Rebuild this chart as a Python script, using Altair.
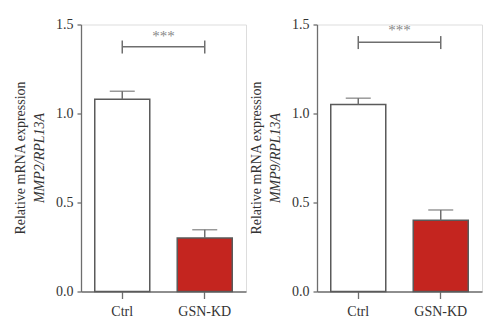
import altair as alt
import pandas as pd

categories = ["Ctrl", "GSN-KD"]
mmp2_mean = [1.08, 0.30]
mmp2_err = [0.045, 0.047]
mmp9_mean = [1.05, 0.40]
mmp9_err = [0.036, 0.058]
bar_fill = ["#ffffff", "#c4251f"]
title_line1 = "Relative mRNA expression"
title_line2 = ["MMP2/RPL13A", "MMP9/RPL13A"]
sig_label = "***"
bracket_y = [1.375, 1.40]
star_y = [1.435, 1.47]

FONT = "Times New Roman, Liberation Serif, serif"
GRAY = "#6e6e6e"
W, H = 165, 267


def panel(means, errs, line2, by, sy):
    df = pd.DataFrame({
        "cat": categories,
        "mean": means,
        "top": [m + e for m, e in zip(means, errs)],
        "fill": bar_fill,
    })
    xscale = alt.Scale(domain=categories, paddingInner=0.333, paddingOuter=0.1667)
    xenc = alt.X("cat:N", sort=categories, scale=xscale,
                 axis=alt.Axis(title=None, labelAngle=0, tickSize=7, labelPadding=6,
                               domainColor=GRAY, tickColor=GRAY, domainWidth=1.3, tickWidth=1.3,
                               labelFont=FONT, labelFontSize=14, labelColor="#333333"))
    yscale = alt.Scale(domain=[0, 1.5], nice=False)
    yenc = alt.Y("mean:Q", scale=yscale,
                 axis=alt.Axis(title=None, values=[0, 0.5, 1.0, 1.5], format=".1f", grid=False,
                               tickSize=4, labelPadding=4, domainColor=GRAY, tickColor=GRAY,
                               domainWidth=1.3, tickWidth=1.3,
                               labelFont=FONT, labelFontSize=14, labelColor="#333333"))
    base = alt.Chart(df)
    bars = base.mark_bar(stroke="#5a5a5a", strokeWidth=1.5).encode(
        x=xenc, y=yenc, fill=alt.Fill("fill:N", scale=None))
    err = base.mark_rule(color=GRAY, strokeWidth=1.5).encode(
        x=alt.X("cat:N", sort=categories, title=None), y=alt.Y("mean:Q", title=None), y2="top:Q")
    cap = base.mark_tick(color=GRAY, thickness=1.5, size=25).encode(
        x=alt.X("cat:N", sort=categories, title=None), y=alt.Y("top:Q", title=None))

    bdf = pd.DataFrame({"x1": [categories[0]], "x2": [categories[1]], "y": [by],
                        "ylo": [by - 0.038], "yhi": [by + 0.035], "sy": [sy], "lab": [sig_label]})
    bb = alt.Chart(bdf)
    hline = bb.mark_rule(color=GRAY, strokeWidth=1.5).encode(
        x=alt.X("x1:N", title=None), x2="x2:N", y=alt.Y("y:Q", title=None))
    lend = bb.mark_rule(color=GRAY, strokeWidth=1.5).encode(
        x=alt.X("x1:N", title=None), y=alt.Y("ylo:Q", title=None), y2="yhi:Q")
    rend = bb.mark_rule(color=GRAY, strokeWidth=1.5).encode(
        x=alt.X("x2:N", title=None), y=alt.Y("ylo:Q", title=None), y2="yhi:Q")
    stars = bb.mark_text(font=FONT, fontSize=15, color="#888888", baseline="middle").encode(
        x=alt.value(W / 2), y=alt.Y("sy:Q", title=None), text="lab:N")

    tdf = pd.DataFrame({"t1": [title_line1], "t2": [line2]})
    tb = alt.Chart(tdf)
    t1 = tb.mark_text(font=FONT, fontSize=14, angle=270, color="#333333", baseline="middle").encode(
        x=alt.value(-60), y=alt.value(H / 2), text="t1:N")
    t2 = tb.mark_text(font=FONT, fontSize=14, angle=270, fontStyle="italic", color="#333333",
                      baseline="middle").encode(
        x=alt.value(-41), y=alt.value(H / 2), text="t2:N")

    return alt.layer(bars, err, cap, hline, lend, rend, stars, t1, t2).properties(width=W, height=H)


chart = alt.hconcat(
    panel(mmp2_mean, mmp2_err, title_line2[0], bracket_y[0], star_y[0]),
    panel(mmp9_mean, mmp9_err, title_line2[1], bracket_y[1], star_y[1]),
    spacing=2,
).properties(
    padding={"left": 13, "top": 16.5, "right": 5, "bottom": 5}
).configure_view(stroke=None).configure(background="white")

chart.save("out.html", embed_options={"renderer": "svg", "actions": False})
